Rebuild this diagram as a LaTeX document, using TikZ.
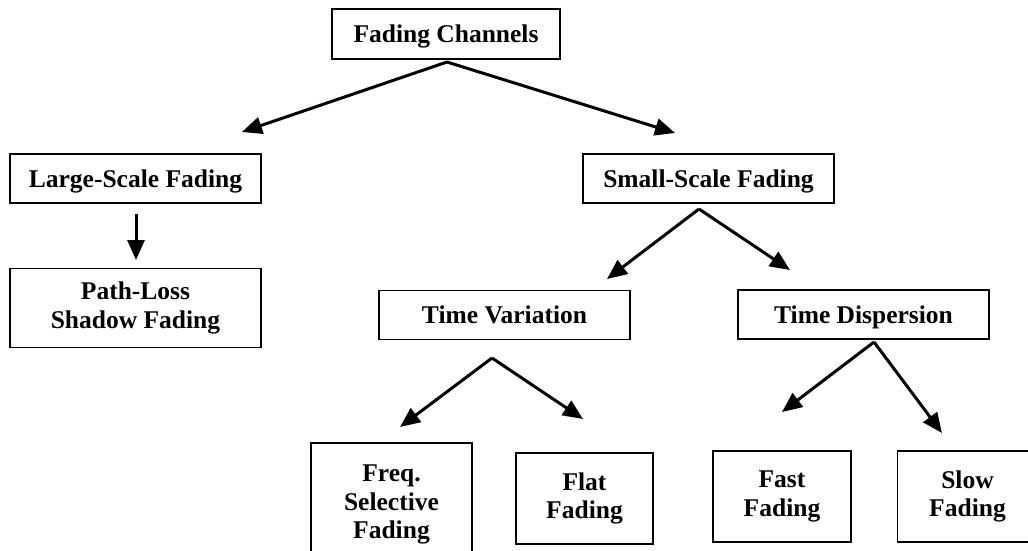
\documentclass[tikz,border=0pt]{standalone}
\usepackage{fontspec}
\setmainfont{Liberation Serif}
\usetikzlibrary{positioning,arrows.meta}
\tikzset{box node/.style={rectangle,draw,line width=1.5pt,minimum width=251pt,minimum height=49pt,inner sep=0pt,align=center,font=\fontsize{25.5}{28.5}\selectfont\bfseries},
one line/.style={text height=17pt,text depth=0pt},
leaf node/.style={box node,minimum width=138pt,minimum height=91pt},
}

\begin{document}
\begin{tikzpicture}[x=1pt,y=-1pt]
				\useasboundingbox (0,0) rectangle (1028,551);
				\node[box node,one line,minimum width=228pt,minimum height=50pt] (FC) at (446,34) {Fading Channels};
				\node[box node,one line] (LS) at (135.5,178.5) {Large-Scale Fading};
				\node[box node,minimum height=79pt] (PL) [below =64pt of LS] {Path-Loss\\Shadow Fading};
				\node[box node,one line] (SS) at (708.5,178.5) {Small-Scale Fading};
				\node[box node,one line] (TV) at (504.5,315) {Time Variation};
				\node[box node,one line] (TD) at (863.5,314.5) {Time Dispersion};
				\node[leaf node,minimum width=161pt,minimum height=123pt] (FS) at (391.5,504.5) {Freq.\\Selective\\Fading};
				\node[leaf node,minimum width=137pt] (FL) at (584.5,498.5) {Flat\\Fading};
				\node[leaf node] (FA) at (782,496.5) {Fast\\Fading};
				\node[leaf node,minimum width=140pt] (SL) [right = 45pt of FA] {Slow\\Fading};
				
				% arrow start and end points
				\coordinate (FCa) at (447,62);
				\coordinate (LSt) at (242,132);
				\coordinate (SSt) at (675,133);
				\coordinate (LSa) at (136,214);
				\coordinate (PLt) at (136,260);
				\coordinate (SSa) at (699,209);
				\coordinate (TVt) at (607,279);
				\coordinate (TDt) at (790,270);
				\coordinate (TVa) at (492,358);
				\coordinate (FSt) at (400,427);
				\coordinate (FLt) at (583,419);
				\coordinate (TDa) at (874,342);
				\coordinate (FAt) at (782,412);
				\coordinate (SLt) at (942,433);
				
				\path[line width=3pt,every edge/.append style={draw,-{Triangle[length=20pt,width=17pt]}}]
				(FCa) edge (LSt)
				(FCa) edge (SSt)
				(LSa) edge (PLt)
				(SSa) edge (TVt)
				(SSa) edge (TDt)
				(TVa) edge (FSt)
				(TVa) edge (FLt)
				(TDa) edge (FAt)
				(TDa) edge (SLt);
				
			\end{tikzpicture}
\end{document}
